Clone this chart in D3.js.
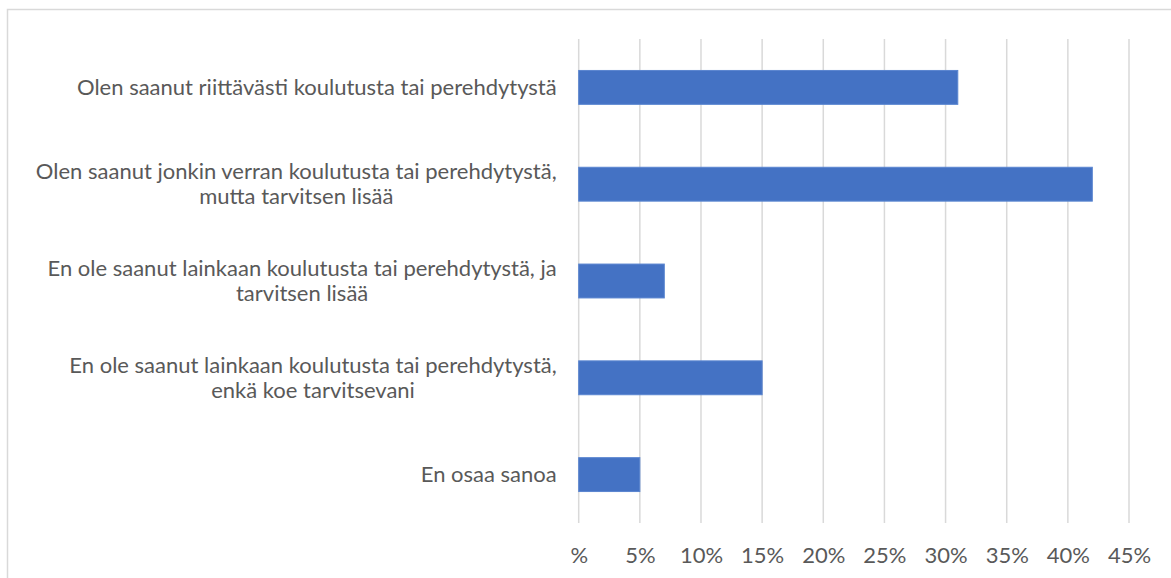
<!DOCTYPE html>
<html>
<head>
<meta charset="utf-8">
<script src="https://cdn.jsdelivr.net/npm/d3@7"></script>
<style>
  body { margin: 0; background: #fff; }
  svg { display: block; font-family: Lato, "Open Sans", sans-serif; }
</style>
</head>
<body>
<div id="chart"></div>
<script>
// data
var categories = [
    ["Olen saanut riittävästi koulutusta tai perehdytystä"],
    ["Olen saanut jonkin verran koulutusta tai perehdytystä,", "mutta tarvitsen lisää"],
    ["En ole saanut lainkaan koulutusta tai perehdytystä, ja", "tarvitsen lisää"],
    ["En ole saanut lainkaan koulutusta tai perehdytystä,", "enkä koe tarvitsevani"],
    ["En osaa sanoa"]
];
var values = [31, 42, 7, 15, 5];
var tickValues = [0, 5, 10, 15, 20, 25, 30, 35, 40, 45];
var tickLabels = ["%", "5%", "10%", "15%", "20%", "25%", "30%", "35%", "40%", "45%"];

var svgWidth = 1171, svgHeight = 578;
var margin = { top: 39, left: 578.7, right: 42, bottom: 55 };
var width = svgWidth - margin.left - margin.right;
var height = svgHeight - margin.top - margin.bottom;
var fontSize = 22;

var svg = d3.select("#chart").append("svg")
    .attr("width", svgWidth)
    .attr("height", svgHeight);

// outer chart border (runs off the right and bottom edge)
svg.append("rect")
    .attr("x", 7.5).attr("y", 9.5)
    .attr("width", 1180).attr("height", 600)
    .attr("fill", "none")
    .attr("stroke", "#d9d9d9")
    .attr("stroke-width", 1.5);

var chartGroup = svg.append("g")
    .attr("transform", `translate(${margin.left}, ${margin.top})`);

var xScale = d3.scaleLinear().domain([0, 45]).range([0, width]);
var yScale = d3.scaleBand()
    .domain(d3.range(categories.length))
    .range([0, height])
    .paddingInner(0.65)
    .paddingOuter(0.325);

// gridlines
chartGroup.selectAll(".grid")
    .data(tickValues)
    .enter()
    .append("line")
    .attr("x1", d => xScale(d)).attr("x2", d => xScale(d))
    .attr("y1", 0).attr("y2", height)
    .attr("stroke", "#d9d9d9")
    .attr("stroke-width", 1.5);

// x axis labels
var xAxis = d3.axisBottom(xScale)
    .tickValues(tickValues)
    .tickFormat((d, i) => tickLabels[i])
    .tickSize(0)
    .tickPadding(0);

var xg = chartGroup.append("g")
    .attr("transform", `translate(0, ${height})`)
    .call(xAxis);
xg.select(".domain").remove();
xg.selectAll("text")
    .attr("y", 32)
    .attr("dy", "0.35em")
    .attr("font-family", "Lato, 'Open Sans', sans-serif")
    .attr("font-size", fontSize)
    .attr("fill", "#595959");

// bars
chartGroup.selectAll(".bar")
    .data(values)
    .enter()
    .append("rect")
    .attr("x", 0)
    .attr("y", (d, i) => yScale(i))
    .attr("width", d => xScale(d))
    .attr("height", yScale.bandwidth())
    .attr("fill", "#4472c4")
    .attr("stroke", "#5a85d0")
    .attr("stroke-width", 1);

// category labels: lines centred within a right-aligned block
var labelRight = -22;
var lineGap = 25;
categories.forEach(function (lines, i) {
    var cy = yScale(i) + yScale.bandwidth() / 2;
    var g = chartGroup.append("g");
    var texts = g.selectAll("text")
        .data(lines)
        .enter()
        .append("text")
        .attr("font-size", fontSize)
        .attr("fill", "#595959")
        .attr("text-anchor", "middle")
        .attr("dy", "0.35em")
        .attr("y", (d, j) => cy + (j - (lines.length - 1) / 2) * lineGap)
        .text(d => d);
    var maxW = d3.max(texts.nodes(), n => n.getComputedTextLength());
    texts.attr("x", labelRight - maxW / 2);
});
</script>
</body>
</html>
